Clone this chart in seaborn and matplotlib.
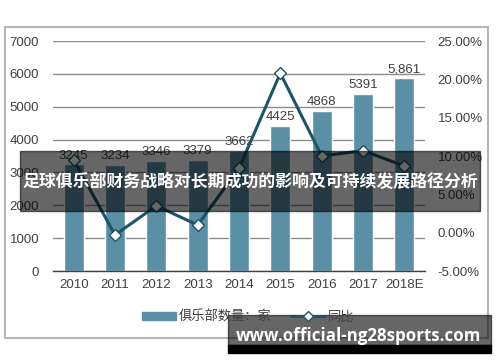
import matplotlib
matplotlib.use("Agg")
import matplotlib.pyplot as plt
import matplotlib.patches as mpatches
from matplotlib.lines import Line2D
import seaborn as sns
import pandas as pd

years = ["2010", "2011", "2012", "2013", "2014", "2015", "2016", "2017", "2018E"]
clubs = [3245, 3234, 3346, 3379, 3662, 4425, 4868, 5391, 5861]
bar_labels = ["3245", "3234", "3346", "3379", "3662", "4425", "4868", "5391", "5,861"]
growth = [9.5, -0.3, 3.5, 1.0, 8.4, 20.8, 10.0, 10.7, 8.7]
left_ticks = [0, 1000, 2000, 3000, 4000, 5000, 6000, 7000]
right_ticks = [-5, 0, 5, 10, 15, 20, 25]
title = "足球俱乐部财务战略对长期成功的影响及可持续发展路径分析"
watermark = "www.official-ng28sports.com"
legend_bar = "俱乐部数量：家"
legend_line = "同比"

sns.set_theme(style="white")
plt.rcParams["font.family"] = ["Liberation Sans", "Noto Sans CJK SC", "DejaVu Sans"]

BAR = "#5b8fa6"
LINE = "#1a5569"
TXT = "#404040"

df = pd.DataFrame({"year": years, "clubs": clubs, "growth": growth})

W, H = 500, 362
fig = plt.figure(figsize=(W / 100, H / 100), dpi=100)
ax = fig.add_axes([53 / W, 1 - 271 / H, (425 - 53) / W, (271 - 41) / H])

sns.barplot(data=df, x="year", y="clubs", color=BAR, width=0.49, ax=ax,
            saturation=1, zorder=2)
ax.set_ylim(0, 7000)
ax.set_yticks(left_ticks)
ax.set_yticklabels([str(t) for t in left_ticks], fontsize=9.5, color=TXT)
ax.set_xticks(range(len(years)))
ax.set_xticklabels(years, fontsize=9.5, color=TXT)
ax.set_xlabel("")
ax.set_ylabel("")
ax.tick_params(axis="both", length=0)
ax.tick_params(axis="y", pad=10)
ax.tick_params(axis="x", pad=6)
for s in ["left", "right", "top"]:
    ax.spines[s].set_visible(False)
ax.spines["bottom"].set_color("#404040")
ax.spines["bottom"].set_linewidth(1)
ax.yaxis.grid(True, color="#8c8c8c", linewidth=1)
ax.set_axisbelow(True)
ax.bar_label(ax.containers[0], labels=bar_labels, padding=2, fontsize=9.5, color=TXT)

ax2 = ax.twinx()
sns.pointplot(data=df, x="year", y="growth", ax=ax2, color=LINE, marker="D",
              markersize=6.5, markerfacecolor="white", markeredgecolor=LINE,
              markeredgewidth=1.0, linewidth=2.2, zorder=3)
ax2.set_ylim(-5, 25)
ax2.set_yticks(right_ticks)
ax2.set_yticklabels([f"{t:.2f}%" for t in right_ticks], fontsize=9.5, color=TXT)
ax2.tick_params(axis="y", length=0, pad=9)
ax2.set_ylabel("")
ax2.set_xlabel("")
ax2.grid(False)
for s in ["left", "right", "top", "bottom"]:
    ax2.spines[s].set_visible(False)
ax2.set_xlim(ax.get_xlim())

# outer frame
fig.patches.append(mpatches.Rectangle((5 / W, 1 - 338 / H), (488 - 5) / W, (338 - 27) / H,
                                      transform=fig.transFigure, fill=False,
                                      edgecolor="#b5b5b5", linewidth=1.5, zorder=0))

handles = [mpatches.Patch(color=BAR),
           Line2D([0], [0], color=LINE, lw=2, marker="D", markersize=5,
                  markerfacecolor="white", markeredgecolor=LINE)]
fig.legend(handles, [legend_bar, legend_line], loc="center",
           bbox_to_anchor=(248 / W, 1 - 317 / H), ncol=2, frameon=False,
           fontsize=9.5, handlelength=2.6, handleheight=0.6, columnspacing=1.5,
           handletextpad=0.2, labelcolor=TXT)

# title banner
fig.patches.append(mpatches.Rectangle((20 / W, 1 - 211 / H), (480 - 20) / W, 60 / H,
                                      transform=fig.transFigure, color="black",
                                      alpha=0.6, zorder=5))
fig.text(250 / W, 1 - 182 / H, title, ha="center", va="center", color="white",
         fontsize=12.2, fontweight="bold", family=["Noto Sans CJK SC"], zorder=6)

# watermark
fig.patches.append(mpatches.Rectangle((228 / W, 1 - 345 / H), (491 - 228) / W, 30 / H,
                                      transform=fig.transFigure, color="black",
                                      alpha=0.6, zorder=5))
fig.patches.append(mpatches.Rectangle((228 / W, 1 - 353 / H), (491 - 228) / W, 8 / H,
                                      transform=fig.transFigure, color="black",
                                      zorder=5))
fig.text(359 / W, 1 - 336 / H, watermark, ha="center", va="center", color="white",
         fontsize=12.2, fontweight="bold", family=["Open Sans", "DejaVu Sans"], zorder=6)

fig.savefig("out.png", dpi=100)
